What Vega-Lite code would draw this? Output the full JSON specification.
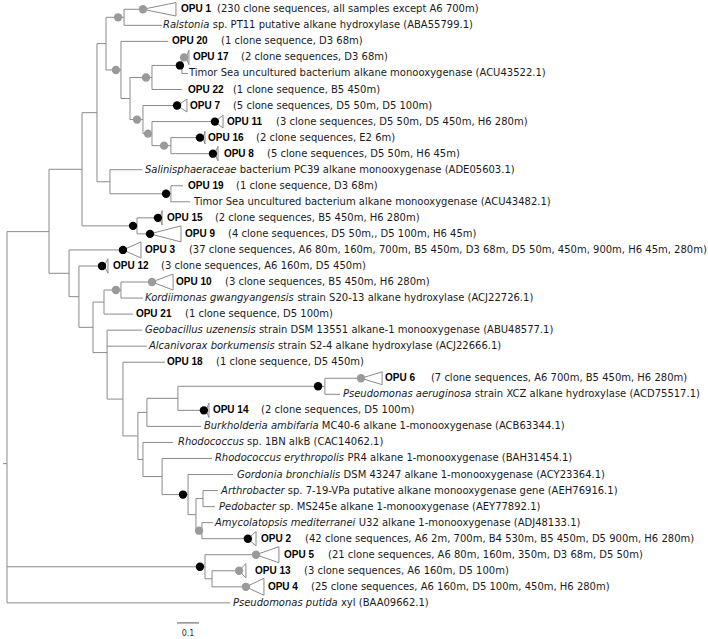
{
  "$schema": "https://vega.github.io/schema/vega-lite/v6.json",
  "width": 708,
  "height": 639,
  "padding": 0,
  "autosize": {"type": "fit", "contains": "padding"},
  "background": "white",
  "config": {"view": {"stroke": null}},
  "datasets": {
    "edges": [
      {"n":"root","px":-0.018,"x":0,"y":28.32,"lo":13.86,"hi":37},
      {"n":"O","px":0,"x":0.191,"y":13.86,"lo":9.973,"hi":16.456},
      {"n":"M","px":0.191,"x":0.341,"y":9.973,"lo":6.445,"hi":13.5},
      {"n":"J","px":0.341,"x":0.409,"y":6.445,"lo":2.141,"hi":10.75},
      {"n":"B","px":0.409,"x":0.45,"y":2.141,"lo":0.5,"hi":3.781},
      {"n":"A","px":0.45,"x":0.532,"y":0.5,"lo":0,"hi":1},
      {"n":"OPU1","px":0.532,"x":0.618,"y":0},
      {"n":"Ralstonia","px":0.532,"x":0.705,"y":1},
      {"n":"C","px":0.45,"x":0.518,"y":3.781,"lo":2,"hi":5.563},
      {"n":"OPU20","px":0.518,"x":0.732,"y":2},
      {"n":"D","px":0.518,"x":0.559,"y":5.563,"lo":4.25,"hi":6.875},
      {"n":"E","px":0.559,"x":0.659,"y":4.25,"lo":3.5,"hi":5},
      {"n":"I","px":0.659,"x":0.795,"y":3.5,"lo":3,"hi":4},
      {"n":"OPU17","px":0.795,"x":0.814,"y":3},
      {"n":"Timor1","px":0.795,"x":0.823,"y":4},
      {"n":"OPU22","px":0.659,"x":0.795,"y":5},
      {"n":"F","px":0.559,"x":0.618,"y":6.875,"lo":6,"hi":7.75},
      {"n":"OPU7","px":0.618,"x":0.773,"y":6},
      {"n":"H","px":0.618,"x":0.659,"y":7.75,"lo":7,"hi":8.5},
      {"n":"OPU11","px":0.659,"x":0.945,"y":7},
      {"n":"G","px":0.659,"x":0.745,"y":8.5,"lo":8,"hi":9},
      {"n":"OPU16","px":0.745,"x":0.891,"y":8},
      {"n":"OPU8","px":0.745,"x":0.945,"y":9},
      {"n":"K","px":0.409,"x":0.468,"y":10.75,"lo":10,"hi":11.5},
      {"n":"Salin","px":0.468,"x":0.614,"y":10},
      {"n":"L","px":0.468,"x":0.745,"y":11.5,"lo":11,"hi":12},
      {"n":"OPU19","px":0.745,"x":0.8,"y":11},
      {"n":"Timor2","px":0.745,"x":0.832,"y":12},
      {"n":"N","px":0.341,"x":0.591,"y":13.5,"lo":13,"hi":14},
      {"n":"OPU15","px":0.591,"x":0.695,"y":13},
      {"n":"OPU9","px":0.591,"x":0.65,"y":14},
      {"n":"P","px":0.191,"x":0.282,"y":16.456,"lo":15,"hi":17.913},
      {"n":"OPU3","px":0.282,"x":0.527,"y":15},
      {"n":"Q","px":0.282,"x":0.327,"y":17.913,"lo":16,"hi":19.825},
      {"n":"OPU12","px":0.327,"x":0.441,"y":16},
      {"n":"V","px":0.327,"x":0.391,"y":19.825,"lo":18.25,"hi":21.4},
      {"n":"S","px":0.391,"x":0.441,"y":18.25,"lo":17.5,"hi":19},
      {"n":"R","px":0.441,"x":0.518,"y":17.5,"lo":17,"hi":18},
      {"n":"OPU10","px":0.518,"x":0.659,"y":17},
      {"n":"Kord","px":0.518,"x":0.618,"y":18},
      {"n":"OPU21","px":0.441,"x":0.573,"y":19},
      {"n":"T","px":0.391,"x":0.455,"y":21.4,"lo":20,"hi":24.297},
      {"n":"Geob","px":0.455,"x":0.614,"y":20},
      {"n":"Alcan","px":0.455,"x":0.636,"y":21},
      {"n":"U","px":0.455,"x":0.527,"y":24.297,"lo":22,"hi":26.594},
      {"n":"OPU18","px":0.527,"x":0.718,"y":22},
      {"n":"Z","px":0.527,"x":0.595,"y":26.594,"lo":25.125,"hi":28.063},
      {"n":"Y","px":0.595,"x":0.636,"y":25.125,"lo":24.25,"hi":26},
      {"n":"X","px":0.636,"x":0.777,"y":24.25,"lo":23.5,"hi":25},
      {"n":"W","px":0.777,"x":1.445,"y":23.5,"lo":23,"hi":24},
      {"n":"OPU6","px":1.445,"x":1.609,"y":23},
      {"n":"Paer","px":1.445,"x":1.514,"y":24},
      {"n":"OPU14","px":0.777,"x":0.905,"y":25},
      {"n":"Burk","px":0.636,"x":0.882,"y":26},
      {"n":"AA","px":0.595,"x":0.618,"y":28.063,"lo":27,"hi":29.125},
      {"n":"Rhsp","px":0.618,"x":0.755,"y":27},
      {"n":"AB","px":0.618,"x":0.705,"y":29.125,"lo":28,"hi":30.25},
      {"n":"Rery","px":0.705,"x":0.932,"y":28},
      {"n":"AF","px":0.705,"x":0.823,"y":30.25,"lo":29,"hi":31.5},
      {"n":"Gord","px":0.823,"x":1.027,"y":29},
      {"n":"AD","px":0.823,"x":0.859,"y":31.5,"lo":30.5,"hi":32.5},
      {"n":"AC","px":0.859,"x":0.891,"y":30.5,"lo":30,"hi":31},
      {"n":"Arth","px":0.891,"x":0.959,"y":30},
      {"n":"Pedo","px":0.891,"x":0.945,"y":31},
      {"n":"AE","px":0.859,"x":0.886,"y":32.5,"lo":32,"hi":33},
      {"n":"Amy","px":0.886,"x":0.936,"y":32},
      {"n":"OPU2","px":0.886,"x":1.095,"y":33},
      {"n":"AG","px":0,"x":0.9,"y":34.75,"lo":34,"hi":35.5},
      {"n":"OPU5","px":0.9,"x":1.132,"y":34},
      {"n":"AH","px":0.9,"x":0.932,"y":35.5,"lo":35,"hi":36},
      {"n":"OPU13","px":0.932,"x":1.055,"y":35},
      {"n":"OPU4","px":0.932,"x":1.086,"y":36},
      {"n":"Pput","px":0,"x":1.014,"y":37}
    ],
    "tri": [
      {"c":"OPU1","ax":0.618,"bx":0.768,"y":0,"t":-0.42,"b":0.42},
      {"c":"OPU17","ax":0.814,"bx":0.827,"y":3,"t":2.55,"b":3.45},
      {"c":"OPU7","ax":0.773,"bx":0.818,"y":6,"t":5.6,"b":6.4},
      {"c":"OPU11","ax":0.945,"bx":0.982,"y":7,"t":6.6,"b":7.4},
      {"c":"OPU16","ax":0.891,"bx":0.9,"y":8,"t":7.6,"b":8.4},
      {"c":"OPU8","ax":0.945,"bx":0.959,"y":9,"t":8.55,"b":9.45},
      {"c":"OPU15","ax":0.695,"bx":0.705,"y":13,"t":12.55,"b":13.45},
      {"c":"OPU9","ax":0.65,"bx":0.791,"y":14,"t":13.5,"b":14.5},
      {"c":"OPU3","ax":0.527,"bx":0.609,"y":15,"t":14.5,"b":15.5},
      {"c":"OPU12","ax":0.441,"bx":0.459,"y":16,"t":15.55,"b":16.45},
      {"c":"OPU10","ax":0.659,"bx":0.755,"y":17,"t":16.5,"b":17.5},
      {"c":"OPU6","ax":1.609,"bx":1.705,"y":23,"t":22.6,"b":23.4},
      {"c":"OPU14","ax":0.905,"bx":0.918,"y":25,"t":24.55,"b":25.45},
      {"c":"OPU2","ax":1.095,"bx":1.132,"y":33,"t":32.55,"b":33.45},
      {"c":"OPU5","ax":1.132,"bx":1.236,"y":34,"t":33.5,"b":34.5},
      {"c":"OPU13","ax":1.055,"bx":1.086,"y":35,"t":34.55,"b":35.45},
      {"c":"OPU4","ax":1.086,"bx":1.168,"y":36,"t":35.47,"b":36.53}
    ],
    "support": [
      {"x":0.618,"y":0,"c":"g"},
      {"x":0.505,"y":0.5,"c":"g"},
      {"x":0.495,"y":3.781,"c":"g"},
      {"x":0.632,"y":4.25,"c":"g"},
      {"x":0.805,"y":3,"c":"g"},
      {"x":0.786,"y":3.5,"c":"k"},
      {"x":0.773,"y":6,"c":"k"},
      {"x":0.591,"y":6.875,"c":"g"},
      {"x":0.641,"y":7.75,"c":"g"},
      {"x":0.945,"y":7,"c":"k"},
      {"x":0.714,"y":8.5,"c":"g"},
      {"x":0.877,"y":8,"c":"k"},
      {"x":0.936,"y":9,"c":"k"},
      {"x":0.723,"y":11.5,"c":"k"},
      {"x":0.573,"y":13.5,"c":"k"},
      {"x":0.686,"y":13,"c":"k"},
      {"x":0.65,"y":14,"c":"k"},
      {"x":0.527,"y":15,"c":"k"},
      {"x":0.432,"y":16,"c":"k"},
      {"x":0.659,"y":17,"c":"g"},
      {"x":0.495,"y":17.5,"c":"g"},
      {"x":1.414,"y":23.5,"c":"k"},
      {"x":1.609,"y":23,"c":"g"},
      {"x":0.895,"y":25,"c":"k"},
      {"x":0.8,"y":30.25,"c":"k"},
      {"x":0.873,"y":32.5,"c":"g"},
      {"x":1.095,"y":33,"c":"k"},
      {"x":0.877,"y":34.75,"c":"k"},
      {"x":1.132,"y":34,"c":"g"},
      {"x":1.055,"y":35,"c":"g"},
      {"x":1.086,"y":36,"c":"g"}
    ],
    "labels": [
      {"y":0,"x":0.791,"s":"b","t":"OPU 1"},
      {"y":0,"x":0.955,"s":"n","t":"(230 clone sequences, all samples except A6 700m)"},
      {"y":1,"x":0.709,"s":"i","t":"Ralstonia"},
      {"y":1,"x":0.935,"s":"n","t":"sp. PT11 putative alkane hydroxylase (ABA55799.1)"},
      {"y":2,"x":0.75,"s":"b","t":"OPU 20"},
      {"y":2,"x":0.973,"s":"n","t":"(1 clone sequence, D3 68m)"},
      {"y":3,"x":0.845,"s":"b","t":"OPU 17"},
      {"y":3,"x":1.064,"s":"n","t":"(2 clone sequences, D3 68m)"},
      {"y":4,"x":0.827,"s":"n","t":"Timor Sea uncultured bacterium alkane monooxygenase (ACU43522.1)"},
      {"y":5,"x":0.823,"s":"b","t":"OPU 22"},
      {"y":5,"x":1.027,"s":"n","t":"(1 clone sequence, B5 450m)"},
      {"y":6,"x":0.832,"s":"b","t":"OPU 7"},
      {"y":6,"x":1.027,"s":"n","t":"(5 clone sequences, D5 50m, D5 100m)"},
      {"y":7,"x":1.0,"s":"b","t":"OPU 11"},
      {"y":7,"x":1.223,"s":"n","t":"(3 clone sequences, D5 50m, D5 450m, H6 280m)"},
      {"y":8,"x":0.914,"s":"b","t":"OPU 16"},
      {"y":8,"x":1.132,"s":"n","t":"(2 clone sequences, E2 6m)"},
      {"y":9,"x":0.986,"s":"b","t":"OPU 8"},
      {"y":9,"x":1.182,"s":"n","t":"(5 clone sequences, D5 50m, H6 45m)"},
      {"y":10,"x":0.627,"s":"i","t":"Salinisphaeraceae"},
      {"y":10,"x":1.058,"s":"n","t":"bacterium PC39 alkane monooxygenase (ADE05603.1)"},
      {"y":11,"x":0.823,"s":"b","t":"OPU 19"},
      {"y":11,"x":1.041,"s":"n","t":"(1 clone sequence, D3 68m)"},
      {"y":12,"x":0.85,"s":"n","t":"Timor Sea uncultured bacterium alkane monooxygenase (ACU43482.1)"},
      {"y":13,"x":0.727,"s":"b","t":"OPU 15"},
      {"y":13,"x":0.945,"s":"n","t":"(2 clone sequences, B5 450m, H6 280m)"},
      {"y":14,"x":0.809,"s":"b","t":"OPU 9"},
      {"y":14,"x":1.005,"s":"n","t":"(4 clone sequences, D5 50m,, D5 100m, H6 45m)"},
      {"y":15,"x":0.627,"s":"b","t":"OPU 3"},
      {"y":15,"x":0.827,"s":"n","t":"(37 clone sequences, A6 80m, 160m, 700m, B5 450m, D3 68m, D5 50m, 450m, 900m, H6 45m, 280m)"},
      {"y":16,"x":0.482,"s":"b","t":"OPU 12"},
      {"y":16,"x":0.7,"s":"n","t":"(3 clone sequences, A6 160m, D5 450m)"},
      {"y":17,"x":0.768,"s":"b","t":"OPU 10"},
      {"y":17,"x":0.991,"s":"n","t":"(3 clone sequences, B5 450m, H6 280m)"},
      {"y":18,"x":0.627,"s":"i","t":"Kordiimonas gwangyangensis"},
      {"y":18,"x":1.32,"s":"n","t":"strain S20-13 alkane hydroxylase (ACJ22726.1)"},
      {"y":19,"x":0.586,"s":"b","t":"OPU 21"},
      {"y":19,"x":0.809,"s":"n","t":"(1 clone sequence, D5 100m)"},
      {"y":20,"x":0.627,"s":"i","t":"Geobacillus uzenensis"},
      {"y":20,"x":1.145,"s":"n","t":"strain DSM 13551 alkane-1 monooxygenase (ABU48577.1)"},
      {"y":21,"x":0.645,"s":"i","t":"Alcanivorax borkumensis"},
      {"y":21,"x":1.232,"s":"n","t":"strain S2-4 alkane hydroxylase (ACJ22666.1)"},
      {"y":22,"x":0.727,"s":"b","t":"OPU 18"},
      {"y":22,"x":0.95,"s":"n","t":"(1 clone sequence, D5 450m)"},
      {"y":23,"x":1.718,"s":"b","t":"OPU 6"},
      {"y":23,"x":1.927,"s":"n","t":"(7 clone sequences, A6 700m, B5 450m, H6 280m)"},
      {"y":24,"x":1.527,"s":"i","t":"Pseudomonas aeruginosa"},
      {"y":24,"x":2.126,"s":"n","t":"strain XCZ alkane hydroxylase (ACD75517.1)"},
      {"y":25,"x":0.936,"s":"b","t":"OPU 14"},
      {"y":25,"x":1.155,"s":"n","t":"(2 clone sequences, D5 100m)"},
      {"y":26,"x":0.895,"s":"i","t":"Burkholderia ambifaria"},
      {"y":26,"x":1.431,"s":"n","t":"MC40-6 alkane 1-monooxygenase (ACB63344.1)"},
      {"y":27,"x":0.777,"s":"i","t":"Rhodococcus"},
      {"y":27,"x":1.091,"s":"n","t":"sp. 1BN alkB (CAC14062.1)"},
      {"y":28,"x":0.945,"s":"i","t":"Rhodococcus erythropolis"},
      {"y":28,"x":1.548,"s":"n","t":"PR4 alkane 1-monooxygenase (BAH31454.1)"},
      {"y":29,"x":1.045,"s":"i","t":"Gordonia bronchialis"},
      {"y":29,"x":1.53,"s":"n","t":"DSM 43247 alkane 1-monooxygenase (ACY23364.1)"},
      {"y":30,"x":0.973,"s":"i","t":"Arthrobacter"},
      {"y":30,"x":1.276,"s":"n","t":"sp. 7-19-VPa putative alkane monooxygenase gene (AEH76916.1)"},
      {"y":31,"x":0.964,"s":"i","t":"Pedobacter"},
      {"y":31,"x":1.236,"s":"n","t":"sp. MS245e alkane 1-monooxygenase (AEY77892.1)"},
      {"y":32,"x":0.945,"s":"i","t":"Amycolatopsis mediterranei"},
      {"y":32,"x":1.599,"s":"n","t":"U32 alkane 1-monooxygenase (ADJ48133.1)"},
      {"y":33,"x":1.155,"s":"b","t":"OPU 2"},
      {"y":33,"x":1.355,"s":"n","t":"(42 clone sequences, A6 2m, 700m, B4 530m, B5 450m, D5 900m, H6 280m)"},
      {"y":34,"x":1.259,"s":"b","t":"OPU 5"},
      {"y":34,"x":1.459,"s":"n","t":"(21 clone sequences, A6 80m, 160m, 350m, D3 68m, D5 50m)"},
      {"y":35,"x":1.127,"s":"b","t":"OPU 13"},
      {"y":35,"x":1.35,"s":"n","t":"(3 clone sequences, A6 160m, D5 100m)"},
      {"y":36,"x":1.186,"s":"b","t":"OPU 4"},
      {"y":36,"x":1.382,"s":"n","t":"(25 clone sequences, A6 160m, D5 100m, 450m, H6 280m)"},
      {"y":37,"x":1.027,"s":"i","t":"Pseudomonas putida"},
      {"y":37,"x":1.518,"s":"n","t":"xyl (BAA09662.1)"}
    ],
    "scalebar": [
      {"x":0.773,"x2":0.873,"y":38.25,"ly":38.95,"lx":0.823,"t":"0.1"}
    ]
  },
  "layer": [
    {
      "data": {"name": "edges"},
      "mark": {"type": "rule", "color": "#8a8a8a", "strokeWidth": 1},
      "encoding": {
        "x": {"field": "px", "type": "quantitative", "axis": null, "scale": {"domain": [-0.0318, 3.1864], "nice": false, "zero": false}},
        "x2": {"field": "x"},
        "y": {"field": "y", "type": "quantitative", "axis": null, "scale": {"domain": [-0.579, 39.19], "nice": false, "zero": false, "reverse": true}}
      }
    },
    {
      "data": {"name": "edges"},
      "transform": [{"filter": {"field": "lo", "valid": true}}],
      "mark": {"type": "rule", "color": "#8a8a8a", "strokeWidth": 1},
      "encoding": {
        "x": {"field": "x", "type": "quantitative", "axis": null},
        "y": {"field": "lo", "type": "quantitative", "axis": null},
        "y2": {"field": "hi"}
      }
    },
    {
      "data": {"name": "tri"},
      "mark": {"type": "rule", "color": "#8a8a8a", "strokeWidth": 1},
      "encoding": {
        "x": {"field": "ax", "type": "quantitative", "axis": null},
        "x2": {"field": "bx"},
        "y": {"field": "y", "type": "quantitative", "axis": null},
        "y2": {"field": "t"}
      }
    },
    {
      "data": {"name": "tri"},
      "mark": {"type": "rule", "color": "#8a8a8a", "strokeWidth": 1},
      "encoding": {
        "x": {"field": "ax", "type": "quantitative", "axis": null},
        "x2": {"field": "bx"},
        "y": {"field": "y", "type": "quantitative", "axis": null},
        "y2": {"field": "b"}
      }
    },
    {
      "data": {"name": "tri"},
      "mark": {"type": "rule", "color": "#8a8a8a", "strokeWidth": 1},
      "encoding": {
        "x": {"field": "bx", "type": "quantitative", "axis": null},
        "y": {"field": "t", "type": "quantitative", "axis": null},
        "y2": {"field": "b"}
      }
    },
    {
      "data": {"name": "support"},
      "mark": {"type": "circle", "opacity": 1, "size": 70},
      "encoding": {
        "x": {"field": "x", "type": "quantitative", "axis": null},
        "y": {"field": "y", "type": "quantitative", "axis": null},
        "color": {"field": "c", "type": "nominal", "legend": null, "scale": {"domain": ["g", "k"], "range": ["#9a9a9a", "#000000"]}}
      }
    },
    {
      "data": {"name": "labels"},
      "transform": [{"filter": {"field": "s", "equal": "n"}}],
      "mark": {"type": "text", "align": "left", "baseline": "middle", "font": "DejaVu Sans", "fontSize": 10, "color": "#1a1a1a"},
      "encoding": {
        "x": {"field": "x", "type": "quantitative", "axis": null},
        "y": {"field": "y", "type": "quantitative", "axis": null},
        "text": {"field": "t"}
      }
    },
    {
      "data": {"name": "labels"},
      "transform": [{"filter": {"field": "s", "equal": "i"}}],
      "mark": {"type": "text", "align": "left", "baseline": "middle", "font": "DejaVu Sans", "fontStyle": "italic", "fontSize": 10, "color": "#1a1a1a"},
      "encoding": {
        "x": {"field": "x", "type": "quantitative", "axis": null},
        "y": {"field": "y", "type": "quantitative", "axis": null},
        "text": {"field": "t"}
      }
    },
    {
      "data": {"name": "labels"},
      "transform": [{"filter": {"field": "s", "equal": "b"}}],
      "mark": {"type": "text", "align": "left", "baseline": "middle", "font": "Liberation Sans Narrow, Liberation Sans, Arial", "fontWeight": "bold", "fontSize": 10, "color": "#000000"},
      "encoding": {
        "x": {"field": "x", "type": "quantitative", "axis": null},
        "y": {"field": "y", "type": "quantitative", "axis": null},
        "text": {"field": "t"}
      }
    },
    {
      "data": {"name": "scalebar"},
      "mark": {"type": "rule", "color": "#555555", "strokeWidth": 1},
      "encoding": {
        "x": {"field": "x", "type": "quantitative", "axis": null},
        "x2": {"field": "x2"},
        "y": {"field": "y", "type": "quantitative", "axis": null}
      }
    },
    {
      "data": {"name": "scalebar"},
      "mark": {"type": "text", "align": "center", "baseline": "middle", "font": "DejaVu Sans", "fontSize": 8, "color": "#333333"},
      "encoding": {
        "x": {"field": "lx", "type": "quantitative", "axis": null},
        "y": {"field": "ly", "type": "quantitative", "axis": null},
        "text": {"field": "t"}
      }
    }
  ]
}
